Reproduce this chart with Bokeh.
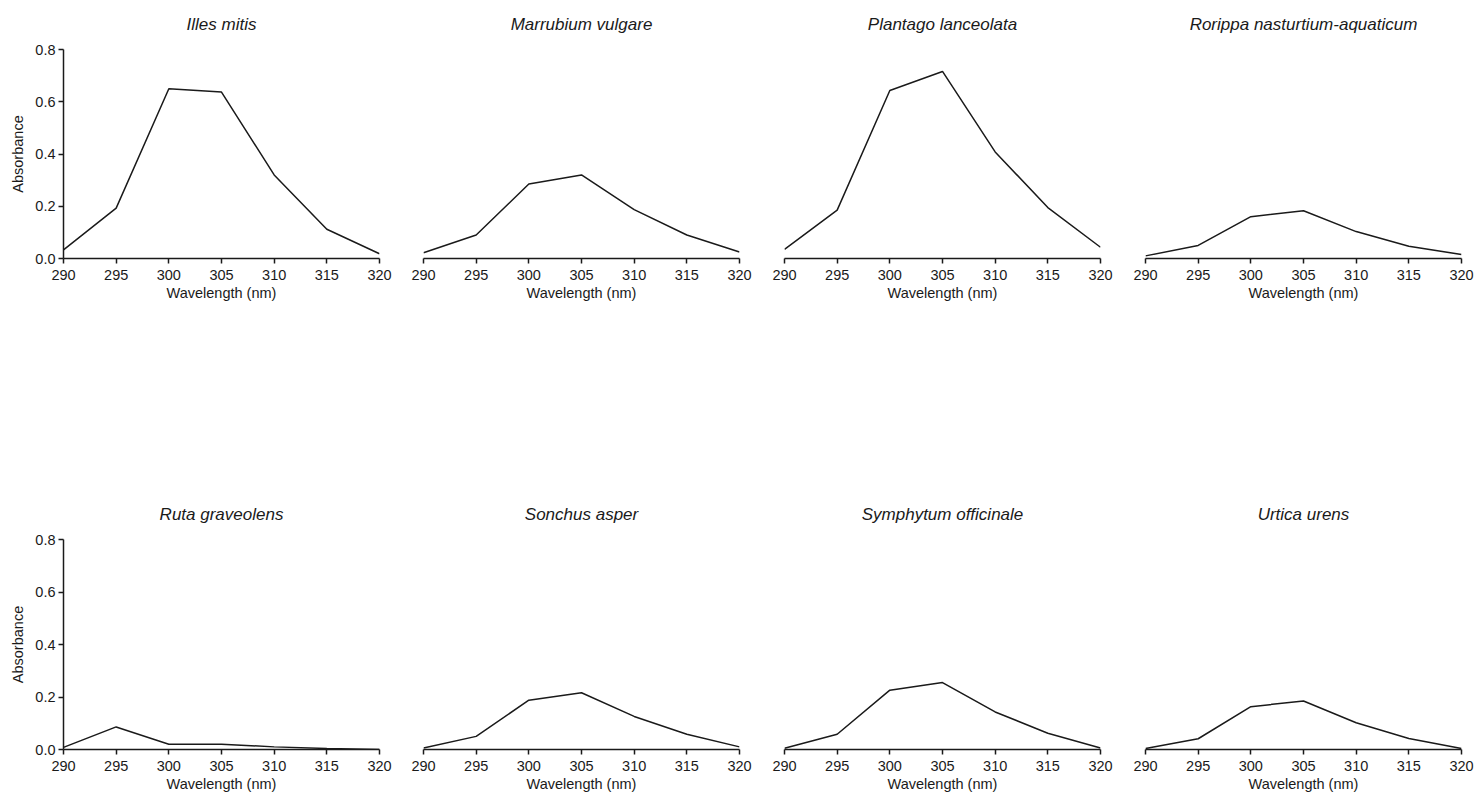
from bokeh.plotting import figure
from bokeh.layouts import column, row
from bokeh.models import Range1d, FixedTicker, NumeralTickFormatter
from bokeh.embed import file_html
from bokeh.resources import INLINE

# Wavelengths (nm) at which absorbance was measured
wavelengths = [290, 295, 300, 305, 310, 315, 320]

# Absorbance of each species' extract
illes_mitis = [0.033, 0.193, 0.650, 0.637, 0.320, 0.112, 0.018]
marrubium_vulgare = [0.022, 0.090, 0.285, 0.320, 0.187, 0.090, 0.025]
plantago_lanceolata = [0.035, 0.185, 0.643, 0.716, 0.408, 0.195, 0.043]
rorippa_nasturtium = [0.010, 0.050, 0.160, 0.183, 0.103, 0.047, 0.015]
ruta_graveolens = [0.008, 0.086, 0.020, 0.020, 0.010, 0.004, 0.000]
sonchus_asper = [0.006, 0.050, 0.188, 0.216, 0.126, 0.058, 0.010]
symphytum_officinale = [0.005, 0.058, 0.226, 0.255, 0.143, 0.062, 0.006]
urtica_urens = [0.004, 0.041, 0.163, 0.185, 0.102, 0.042, 0.004]

species = [
    "Illes mitis", "Marrubium vulgare", "Plantago lanceolata", "Rorippa nasturtium-aquaticum",
    "Ruta graveolens", "Sonchus asper", "Symphytum officinale", "Urtica urens",
]
series = [
    illes_mitis, marrubium_vulgare, plantago_lanceolata, rorippa_nasturtium,
    ruta_graveolens, sonchus_asper, symphytum_officinale, urtica_urens,
]

x_ticks = [290, 295, 300, 305, 310, 315, 320]
y_ticks = [0.0, 0.2, 0.4, 0.6, 0.8]

FONT = "Liberation Sans"
INK = "#1a1a1a"
LABEL_SIZE = "14.5px"

# column geometry: (fig width, left border, right border)
col_geom = [(401, 63, 22), (360, 22, 22), (361, 23, 22), (358, 23, 19)]
# row geometry: (fig height, top border, bottom border)
row_geom = [(400, 48, 142), (400, 139, 51)]


def panel(name, values, col, rw):
    w, bl, br = col_geom[col]
    h, bt, bb = row_geom[rw]
    first = col == 0
    p = figure(
        width=w, height=h,
        x_range=Range1d(290, 320), y_range=Range1d(0, 0.8),
        output_backend="svg", toolbar_location=None,
        y_axis_location="left" if first else None,
        min_border_left=bl, min_border_right=br,
        min_border_top=bt, min_border_bottom=bb,
        title=name,
    )
    p.background_fill_color = "white"
    p.border_fill_color = "white"
    p.outline_line_color = None
    p.xgrid.visible = False
    p.ygrid.visible = False

    p.title.align = "center"
    p.title.vertical_align = "top"
    p.title.text_font = FONT
    p.title.text_font_style = "italic"
    p.title.text_font_size = "17px"
    p.title.text_color = INK
    p.title.standoff = 28

    axes = [p.xaxis[0]] + ([p.yaxis[0]] if first else [])
    for ax in axes:
        ax.axis_line_color = INK
        ax.axis_line_width = 1.5
        ax.major_tick_line_color = INK
        ax.major_tick_line_width = 1.5
        ax.major_tick_out = 5
        ax.major_tick_in = 0
        ax.minor_tick_line_color = None
        ax.major_label_text_font = FONT
        ax.major_label_text_font_size = LABEL_SIZE
        ax.major_label_text_color = INK
        ax.axis_label_text_font = FONT
        ax.axis_label_text_font_size = LABEL_SIZE
        ax.axis_label_text_font_style = "normal"
        ax.axis_label_text_color = INK

    p.xaxis.ticker = FixedTicker(ticks=x_ticks)
    p.xaxis.axis_label = "Wavelength (nm)"
    p.xaxis.major_label_standoff = 6
    p.xaxis.axis_label_standoff = 2
    if first:
        p.yaxis.ticker = FixedTicker(ticks=y_ticks)
        p.yaxis.formatter = NumeralTickFormatter(format="0.0")
        p.yaxis.axis_label = "Absorbance"
        p.yaxis.major_label_standoff = 3
        p.yaxis.axis_label_standoff = 6

    p.line(wavelengths, values, line_color=INK, line_width=1.5)
    return p


rows = []
for r in range(2):
    figs = [panel(species[r * 4 + c], series[r * 4 + c], c, r) for c in range(4)]
    rows.append(row(*figs, spacing=0))

layout = column(*rows, spacing=0)

with open("out.html", "w") as f:
    f.write(file_html(layout, INLINE))
